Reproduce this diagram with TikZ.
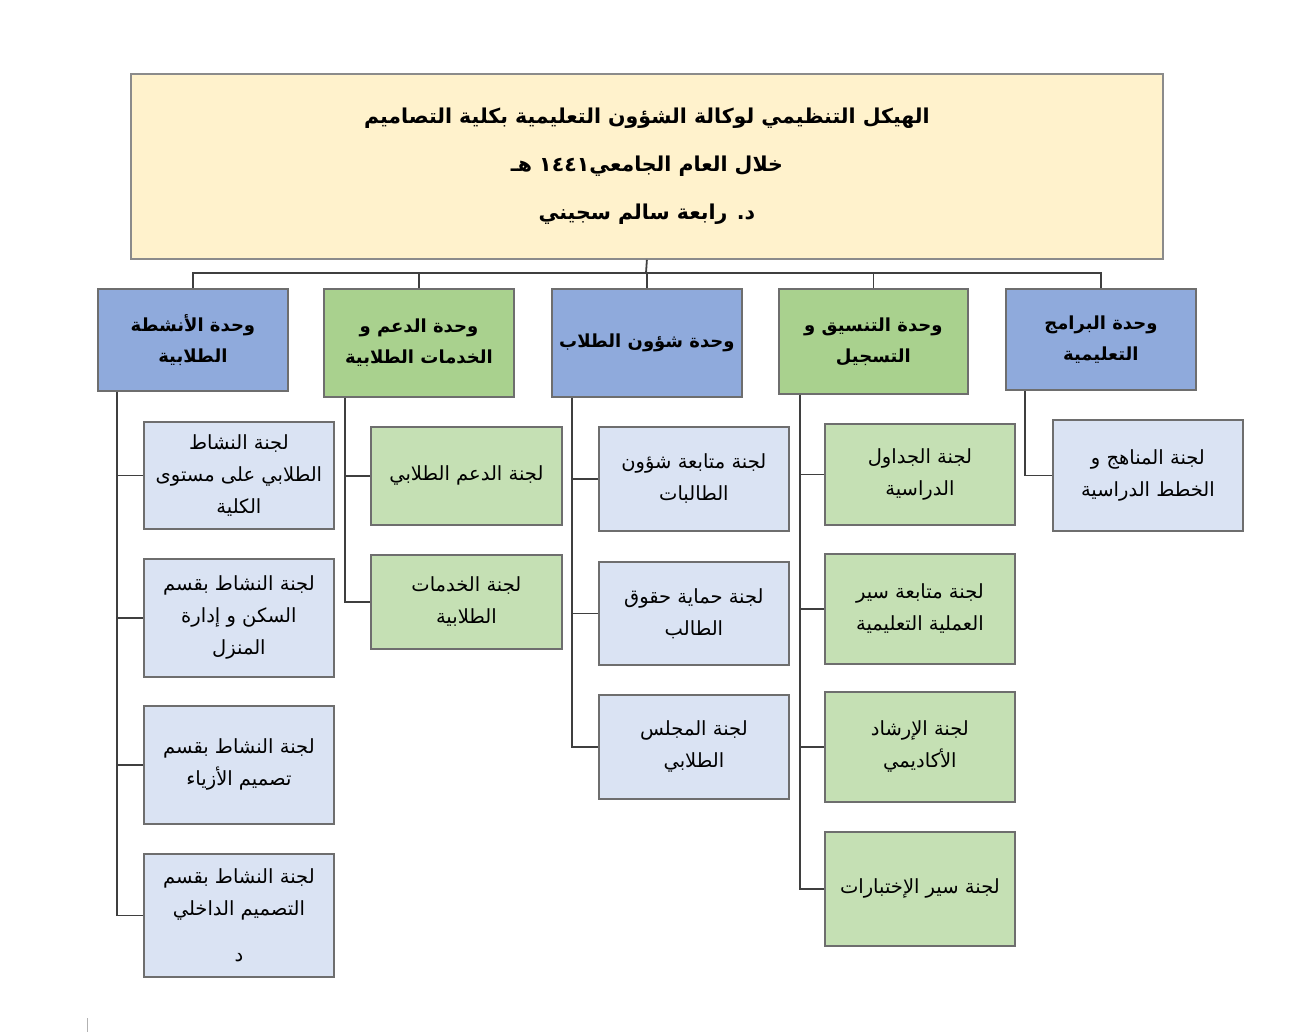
\documentclass[tikz,border=0pt]{standalone}
\usepackage{fontspec}
\newfontfamily\arabicfont[Script=Arabic]{DejaVu Sans}
\TeXXeTstate=1
\definecolor{titlefill}{HTML}{FFF2CC}
\definecolor{unitblue}{HTML}{8FAADC}
\definecolor{unitgreen}{HTML}{A9D18E}
\definecolor{subblue}{HTML}{DAE3F3}
\definecolor{subgreen}{HTML}{C5E0B4}
\definecolor{boxline}{HTML}{6E6E6E}
\definecolor{linkline}{HTML}{3F3F3F}
\newcommand{\rl}[1]{\beginR #1\endR}
\tikzset{
  box/.style={draw=boxline, line width=1.8pt, anchor=north west, align=center,
    inner sep=0pt, minimum width=190pt, font=\arabicfont\fontsize{19.5}{32}\selectfont},
  unitb/.style={box, fill=unitblue, font=\arabicfont\bfseries\fontsize{18}{31}\selectfont},
  unitg/.style={box, fill=unitgreen, font=\arabicfont\bfseries\fontsize{18}{31}\selectfont},
  subb/.style={box, fill=subblue},
  subg/.style={box, fill=subgreen},
  link/.style={draw=linkline, line width=1.8pt}
}
\begin{document}
\begin{tikzpicture}[x=1pt,y=-1pt]
  \useasboundingbox (0,0) rectangle (1300,1033);
  \node[box, fill=titlefill, draw=boxline!80, minimum width=1032pt, minimum height=185pt,
    font=\arabicfont\bfseries\fontsize{20.5}{48}\selectfont] (title) at (130,73)
    {\rl{الهيكل التنظيمي لوكالة الشؤون التعليمية بكلية التصاميم}\\
     \rl{خلال العام الجامعي١٤٤١ هـ}\\
     \rl{د. رابعة سالم سجيني}};

  \node[unitb, minimum height=101pt] (ub) at (1005,288) {\rl{وحدة البرامج}\\\rl{التعليمية}};
  \node[unitg, minimum height=105pt, minimum width=189pt] (uc) at (778,288) {\rl{وحدة التنسيق و}\\\rl{التسجيل}};
  \node[unitb, minimum height=108pt] (us) at (551,288) {\rl{وحدة شؤون الطلاب}};
  \node[unitg, minimum height=108pt] (ud) at (323,288) {\rl{وحدة الدعم و}\\\rl{الخدمات الطلابية}};
  \node[unitb, minimum height=102pt] (ua) at (97,288) {\rl{وحدة الأنشطة}\\\rl{الطلابية}};

  \node[subb, minimum height=111pt] (b1) at (1052,419) {\rl{لجنة المناهج و}\\\rl{الخطط الدراسية}};

  \node[subg, minimum height=101pt] (c1) at (824,423) {\rl{لجنة الجداول}\\\rl{الدراسية}};
  \node[subg, minimum height=110pt] (c2) at (824,553) {\rl{لجنة متابعة سير}\\\rl{العملية التعليمية}};
  \node[subg, minimum height=110pt] (c3) at (824,691) {\rl{لجنة الإرشاد}\\\rl{الأكاديمي}};
  \node[subg, minimum height=114pt] (c4) at (824,831) {\rl{لجنة سير الإختبارات}};

  \node[subb, minimum height=104pt] (s1) at (598,426) {\rl{لجنة متابعة شؤون}\\\rl{الطالبات}};
  \node[subb, minimum height=103pt] (s2) at (598,561) {\rl{لجنة حماية حقوق}\\\rl{الطالب}};
  \node[subb, minimum height=104pt] (s3) at (598,694) {\rl{لجنة المجلس}\\\rl{الطلابي}};

  \node[subg, minimum height=98pt, minimum width=191pt] (d1) at (370,426) {\rl{لجنة الدعم الطلابي}};
  \node[subg, minimum height=94pt, minimum width=191pt] (d2) at (370,554) {\rl{لجنة الخدمات}\\\rl{الطلابية}};

  \node[subb, minimum height=107pt] (a1) at (143,421) {\rl{لجنة النشاط}\\\rl{الطلابي على مستوى}\\\rl{الكلية}};
  \node[subb, minimum height=118pt] (a2) at (143,558) {\rl{لجنة النشاط بقسم}\\\rl{السكن و إدارة}\\\rl{المنزل}};
  \node[subb, minimum height=118pt] (a3) at (143,705) {\rl{لجنة النشاط بقسم}\\\rl{تصميم الأزياء}};
  \node[subb, minimum height=123pt] (a4) at (143,853) {\rl{لجنة النشاط بقسم}\\\rl{التصميم الداخلي}\\[14pt]\rl{د}};

  \coordinate (bus) at (646,273);
  \draw[link] (title.south) -- (bus);
  \draw[link] (ua.north) |- (bus) -| (ub.north);
  \foreach \u in {ud,us,uc}
    \draw[link] (\u.north) -- (\u.north |- bus);

  \draw[link] ([xshift=20pt]ub.south west) |- (b1.west);
  \foreach \c in {c1,c2,c3,c4}
    \draw[link] ([xshift=22pt]uc.south west) |- (\c.west);
  \foreach \c in {s1,s2,s3}
    \draw[link] ([xshift=21pt]us.south west) |- (\c.west);
  \foreach \c in {d1,d2}
    \draw[link] ([xshift=22pt]ud.south west) |- (\c.west);
  \foreach \c in {a1,a2,a3,a4}
    \draw[link] ([xshift=20pt]ua.south west) |- (\c.west);

  \draw[black!30, line width=1pt] (87,1018) -- (87,1032);
\end{tikzpicture}
\end{document}
